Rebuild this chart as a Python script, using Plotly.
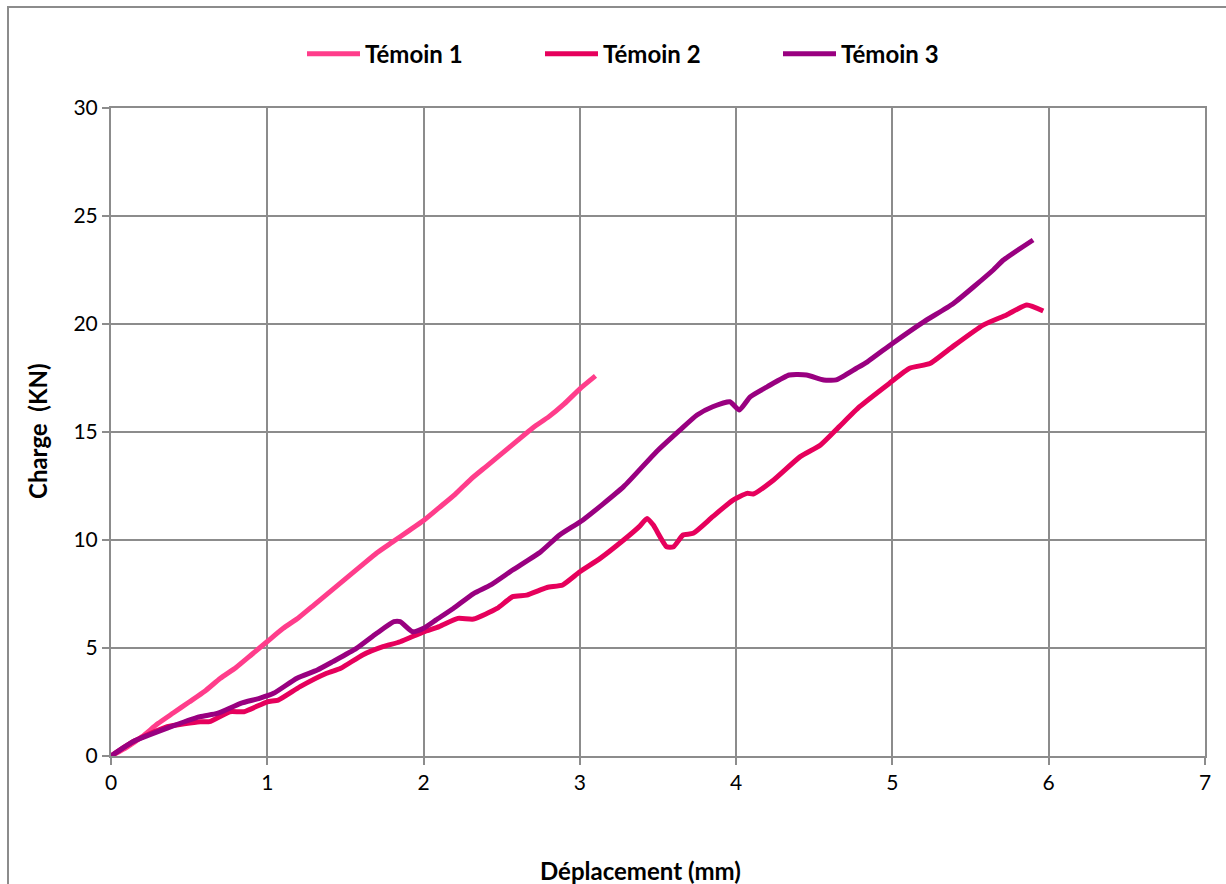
import plotly.graph_objects as go

# Load-displacement curves for the three control specimens
x_t1 = [0, 0.1, 0.2, 0.3, 0.4, 0.5, 0.6, 0.7, 0.8, 0.9, 1.0, 1.1, 1.2, 1.3, 1.4, 1.5,
        1.6, 1.7, 1.8, 1.9, 2.0, 2.1, 2.2, 2.3, 2.4, 2.5, 2.6, 2.7, 2.8, 2.9, 3.0, 3.1]
y_t1 = [0, 0.4, 0.9, 1.5, 2.0, 2.5, 3.0, 3.6, 4.1, 4.7, 5.3, 5.9, 6.4, 7.0, 7.6, 8.2,
        8.8, 9.4, 9.9, 10.4, 10.9, 11.5, 12.1, 12.8, 13.4, 14.0, 14.6, 15.2, 15.7, 16.3, 17.0, 17.6]

x_t2 = [0, 0.14, 0.36, 0.57, 0.63, 0.76, 0.85, 1.0, 1.07, 1.21, 1.38, 1.47, 1.61, 1.74,
        1.85, 2.0, 2.1, 2.22, 2.32, 2.47, 2.57, 2.66, 2.79, 2.89, 3.0, 3.13, 3.28, 3.38,
        3.43, 3.47, 3.555, 3.6, 3.66, 3.725, 3.85, 3.98, 4.07, 4.11, 4.24, 4.41, 4.54,
        4.66, 4.79, 4.98, 5.11, 5.24, 5.37, 5.58, 5.73, 5.86, 5.965]
y_t2 = [0, 0.66, 1.36, 1.59, 1.59, 2.05, 2.05, 2.51, 2.59, 3.21, 3.83, 4.06, 4.68, 5.06,
        5.29, 5.75, 5.99, 6.37, 6.34, 6.83, 7.38, 7.45, 7.8, 7.92, 8.53, 9.15, 10.0, 10.62,
        11.0, 10.69, 9.69, 9.69, 10.23, 10.31, 11.08, 11.85, 12.16, 12.13, 12.78, 13.86, 14.4,
        15.25, 16.17, 17.25, 17.95, 18.17, 18.87, 19.95, 20.42, 20.88, 20.6]

x_t3 = [0, 0.14, 0.36, 0.57, 0.68, 0.83, 0.95, 1.04, 1.19, 1.32, 1.42, 1.57, 1.7, 1.81,
        1.85, 1.93, 2.0, 2.08, 2.19, 2.32, 2.43, 2.57, 2.75, 2.87, 3.02, 3.28, 3.49, 3.64,
        3.75, 3.85, 3.96, 4.02, 4.09, 4.2, 4.34, 4.45, 4.56, 4.64, 4.77, 4.84, 5.0, 5.2,
        5.39, 5.645, 5.71, 5.9]
y_t3 = [0, 0.66, 1.29, 1.82, 1.97, 2.44, 2.67, 2.9, 3.6, 3.98, 4.37, 4.98, 5.68, 6.22,
        6.22, 5.75, 5.91, 6.3, 6.83, 7.52, 7.92, 8.61, 9.46, 10.23, 10.93, 12.47, 14.09, 15.09,
        15.79, 16.17, 16.4, 16.02, 16.63, 17.1, 17.64, 17.64, 17.41, 17.41, 17.95, 18.25, 19.1, 20.1,
        20.95, 22.5, 22.96, 23.89]

names = ["Témoin 1", "Témoin 2", "Témoin 3"]
colors = ["#FF3D8B", "#E6005C", "#990080"]

fig = go.Figure()
for name, xs, ys, c in zip(names, [x_t1, x_t2, x_t3], [y_t1, y_t2, y_t3], colors):
    fig.add_trace(go.Scatter(
        x=xs, y=ys, name=name, mode="lines",
        line=dict(color=c, width=5, shape="spline", smoothing=0.5),
    ))

font_family = "Lato, 'Liberation Sans', sans-serif"
grid = "#8C8C8C"

fig.update_layout(
    width=1226, height=884,
    margin=dict(l=111, r=21, t=108, b=128),
    paper_bgcolor="white", plot_bgcolor="white",
    font=dict(family=font_family, size=21, color="black"),
    showlegend=True,
    legend=dict(
        orientation="h", x=(302 - 111) / 1094, xanchor="left", y=1.083, yanchor="middle",
        font=dict(size=24, family=font_family, weight="bold"),
        itemwidth=53, entrywidth=170, entrywidthmode="pixels",
        bgcolor="rgba(0,0,0,0)",
    ),
    xaxis=dict(
        range=[0, 7], dtick=1, tick0=0,
        showgrid=True, gridcolor=grid, gridwidth=2,
        zeroline=False, showline=True, linecolor=grid, linewidth=2, mirror=True,
        ticks="outside", ticklen=7, tickcolor=grid, tickwidth=2,
        tickfont=dict(size=21),
    ),
    yaxis=dict(
        range=[0, 30], dtick=5, tick0=0,
        showgrid=True, gridcolor=grid, gridwidth=2,
        zeroline=False, showline=True, linecolor=grid, linewidth=2, mirror=True,
        ticks="outside", ticklen=7, tickcolor=grid, tickwidth=2,
        tickfont=dict(size=21),
    ),
    annotations=[
        dict(text="<b>Déplacement (mm)</b>", xref="paper", yref="paper",
             x=(640 - 111) / 1094, y=-(870 - 756) / 648, showarrow=False,
             font=dict(size=24), xanchor="center", yanchor="middle"),
        dict(text="<b>Charge  (KN)</b>", xref="paper", yref="paper",
             x=-(111 - 37) / 1094, y=(756 - 432) / 648, showarrow=False,
             textangle=-90, font=dict(size=24), xanchor="center", yanchor="middle"),
    ],
    shapes=[
        dict(type="rect", xref="paper", yref="paper",
             x0=-(111 - 8) / 1094, x1=1.2, y0=-0.5, y1=1 + (108 - 7) / 648,
             line=dict(color="#8C8C8C", width=2), fillcolor="rgba(0,0,0,0)", layer="below"),
    ],
)

fig.write_html("out.html")
